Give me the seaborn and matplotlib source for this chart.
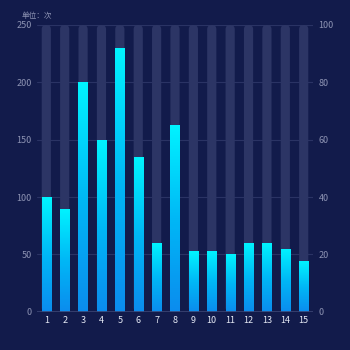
import numpy as np
import pandas as pd
import matplotlib
matplotlib.use("Agg")
import matplotlib.pyplot as plt
import seaborn as sns
from matplotlib.colors import LinearSegmentedColormap
from matplotlib.patches import FancyBboxPatch

# Data
categories = [str(i) for i in range(1, 16)]
values = [100, 90, 200, 150, 230, 135, 60, 163, 53, 53, 50, 60, 60, 55, 44]
left_max = 250
left_ticks = [0, 50, 100, 150, 200, 250]
right_ticks = [0, 20, 40, 60, 80, 100]
unit_label = "单位：次"

bg = "#121b4b"
text_col = "#8d93b3"
grid_col = "#2a3364"

sns.set_theme(style="dark")
plt.rcParams["font.family"] = ["Noto Sans CJK SC", "DejaVu Sans"]

df = pd.DataFrame({"cat": categories, "value": values,
                   "track": [left_max] * len(categories)})

fig = plt.figure(figsize=(3.5, 3.5), dpi=100, facecolor=bg)
ax = fig.add_axes([0.106, 0.109, 0.788, 0.820])
ax.set_facecolor(bg)

# Background track bars
sns.barplot(data=df, x="cat", y="track", color="#2c3565", width=0.5,
            ax=ax, zorder=1, saturation=1)
track_patches = list(ax.patches)
for p in track_patches:
    x, w, h = p.get_x(), p.get_width(), p.get_height()
    p.remove()
    r = w / 2
    asp = 15.5
    fb = FancyBboxPatch((x, 0), w, h,
                        boxstyle=f"round,pad=0,rounding_size={r}",
                        mutation_aspect=asp, fc="#2c3565", ec="none",
                        zorder=1)
    ax.add_patch(fb)

# Value bars with vertical gradient
n_before = len(ax.patches)
sns.barplot(data=df, x="cat", y="value", color="#00c8ff", width=0.5,
            ax=ax, zorder=2, saturation=1)
cmap = LinearSegmentedColormap.from_list("g", ["#0b8cee", "#00b8f6", "#00f4ff"])
grad = np.linspace(0, 1, 256).reshape(-1, 1)
for p in ax.patches[n_before:]:
    x, w, h = p.get_x(), p.get_width(), p.get_height()
    p.set_facecolor("none")
    p.set_edgecolor("none")
    im = ax.imshow(grad, cmap=cmap, origin="lower", aspect="auto",
                   extent=[x, x + w, 0, h], zorder=3)
    im.set_clip_path(p)

ax.set_xlim(-0.5, len(categories) - 0.5)
ax.set_ylim(0, left_max)
ax.set_yticks(left_ticks)
ax.set_xlabel("")
ax.set_ylabel("")
ax.grid(False)
for y in left_ticks[1:]:
    ax.axhline(y, color=grid_col, lw=0.8, zorder=0.5)
for s in ax.spines.values():
    s.set_visible(False)
ax.axhline(0, color="#3b4473", lw=1.2, zorder=4)
ax.tick_params(axis="y", colors=text_col, labelsize=6.5, length=0, pad=4)
ax.tick_params(axis="x", colors="#e6eaf5", labelsize=6.5, length=0, pad=3)

ax2 = ax.twinx()
ax2.set_ylim(0, 100)
ax2.set_yticks(right_ticks)
ax2.grid(False)
for s in ax2.spines.values():
    s.set_visible(False)
ax2.tick_params(axis="y", colors=text_col, labelsize=6.5, length=0, pad=4)

fig.text(0.063, 0.955, unit_label, color=text_col, fontsize=5.5,
         ha="left", va="center")

fig.savefig("out.png", dpi=100, facecolor=bg)
